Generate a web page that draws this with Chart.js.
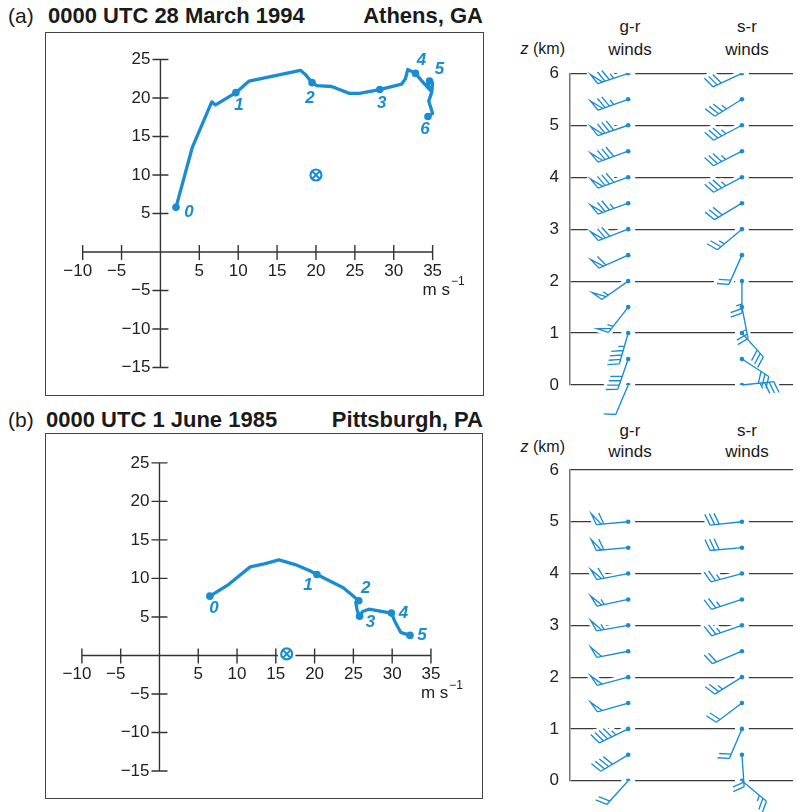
<!DOCTYPE html>
<html>
<head>
<meta charset="utf-8">
<script src="https://cdn.jsdelivr.net/npm/chart.js@4.4.1/dist/chart.umd.min.js"></script>
<style>
  html, body { margin: 0; padding: 0; background: #fff; }
  body { width: 797px; height: 812px; position: relative; overflow: hidden;
         font-family: "Liberation Sans", Arial, sans-serif; color: #1a1a1a; }
  .abs { position: absolute; white-space: nowrap; }
  .tag { font-size: 21px; line-height: 24px; }
  .ttl { font-size: 22px; font-weight: bold; line-height: 24px; }
  .box { position: absolute; border: 1.5px solid #444; box-sizing: border-box; }
  .hdr { font-size: 17px; line-height: 19px; text-align: center; width: 60px; }
  .zl { font-size: 16px; line-height: 19px; }
  canvas { position: absolute; }
</style>
</head>
<body>

<div class="abs tag" style="left:8px; top:4px">(a)</div>
<div class="abs ttl" style="left:48px; top:4px">0000 UTC 28 March 1994</div>
<div class="abs ttl" style="right:314px; top:4px">Athens, GA</div>
<div class="box" style="left:45px; top:32px; width:439px; height:364px"></div>
<canvas id="hodoA" width="438" height="363" style="left:45px; top:32px"></canvas>

<div class="abs zl" style="right:232px; top:39px"><i>z</i> (km)</div>
<div class="abs hdr" style="left:600px; top:17px">g-r</div>
<div class="abs hdr" style="left:600px; top:40px">winds</div>
<div class="abs hdr" style="left:717px; top:17px">s-r</div>
<div class="abs hdr" style="left:717px; top:40px">winds</div>
<canvas id="barbA" width="307" height="420" style="left:490px; top:0px"></canvas>

<div class="abs tag" style="left:8px; top:408px">(b)</div>
<div class="abs ttl" style="left:46px; top:408px">0000 UTC 1 June 1985</div>
<div class="abs ttl" style="right:314px; top:408px">Pittsburgh, PA</div>
<div class="box" style="left:45px; top:433px; width:438px; height:366px"></div>
<canvas id="hodoB" width="437" height="365" style="left:45px; top:433px"></canvas>

<div class="abs zl" style="right:232px; top:437px"><i>z</i> (km)</div>
<div class="abs hdr" style="left:600px; top:421px">g-r</div>
<div class="abs hdr" style="left:600px; top:442px">winds</div>
<div class="abs hdr" style="left:717px; top:421px">s-r</div>
<div class="abs hdr" style="left:717px; top:442px">winds</div>
<canvas id="barbB" width="307" height="392" style="left:490px; top:420px"></canvas>

<script>
// ---- data ----
// (a) Athens hodograph, ground-relative wind components (m/s)
const athensU = [2.0, 4.1, 6.6, 7.1, 9.7, 11.4, 18.0, 18.6, 19.5, 20.1, 22.0, 24.3, 25.6, 28.2, 31.0, 31.5, 31.8, 32.8, 33.8, 34.9, 34.4, 34.5, 35.0, 34.9, 34.5, 35.0, 34.4];
const athensV = [5.8, 13.6, 19.5, 19.1, 20.7, 22.2, 23.6, 23.1, 22.0, 21.6, 21.5, 20.6, 20.6, 21.1, 21.8, 22.5, 23.7, 23.2, 22.0, 20.8, 21.7, 22.3, 22.0, 20.8, 19.6, 18.0, 17.6];
const athensMarkU = [2.0, 9.7, 19.5, 28.2, 32.8, 34.6, 34.4];
const athensMarkV = [5.8, 20.7, 22.0, 21.1, 23.2, 22.2, 17.6];
const athensMarkLabels = ['0', '1', '2', '3', '4', '5', '6'];
const athensStorm = [20, 10];

// (b) Pittsburgh hodograph
const pittU = [6.5, 8.9, 11.7, 13.5, 15.4, 17.5, 19.4, 20.3, 23.7, 25.7, 25.3, 25.5, 25.8, 26.2, 27.0, 29.9, 30.4, 31.1, 32.3];
const pittV = [7.7, 9.2, 11.5, 11.9, 12.4, 11.8, 11.0, 10.5, 8.8, 7.1, 6.9, 5.8, 5.1, 5.7, 6.0, 5.5, 4.3, 3.0, 2.6];
const pittMarkU = [6.5, 20.3, 25.7, 25.8, 29.9, 32.3];
const pittMarkV = [7.7, 10.5, 7.1, 5.1, 5.5, 2.6];
const pittMarkLabels = ['0', '1', '2', '3', '4', '5'];
const pittStorm = [16.4, 0.2];

// hodograph tick labels
const uTicks = [-10, -5, 5, 10, 15, 20, 25, 30, 35];
const vTicks = [-15, -10, -5, 5, 10, 15, 20, 25];
const zTicks = [0, 1, 2, 3, 4, 5, 6];

// wind barbs: direction wind comes from (deg) and speed (kt)
const athensLevels = [0, 0.5, 1, 1.5, 2, 2.5, 3, 3.5, 4, 4.5, 5, 5.5, 6];
const athensGrDir = [203, 199, 196, 218, 235, 246, 249, 250, 250, 250, 251, 250, 251];
const athensGrKt  = [10, 40, 45, 55, 55, 60, 70, 75, 80, 80, 80, 75, 75];
const athensSrDir = [84, 123, 138, 169, 180, 204, 230, 239, 242, 243, 242, 238, 245];
const athensSrKt  = [35, 30, 30, 25, 25, 20, 25, 30, 35, 35, 35, 35, 30];

const pittLevels = [0, 0.5, 1, 1.5, 2, 2.5, 3, 3.5, 4, 4.5, 5];
const pittGrDir = [222, 239, 244, 254, 255, 259, 260, 258, 259, 265, 265];
const pittGrKt  = [20, 40, 45, 50, 50, 50, 55, 55, 60, 60, 60];
const pittSrDir = [130, 176, 203, 233, 238, 247, 251, 252, 255, 265, 264];
const pittSrKt  = [25, 20, 20, 20, 25, 20, 25, 25, 25, 30, 30];

// ---- style ----
const BLUE = '#1a8cd2';
const INK = '#222';
const FONT = '"Liberation Sans", Arial, sans-serif';
Chart.defaults.font.family = FONT;

// label offsets (px) for the height numbers next to the hodograph dots
const athensLabelOffsets = [[13, 5], [3, 13], [-2, 16], [2, 14], [6, -13], [10, -12], [-3, 13]];
const pittLabelOffsets = [[4, 12], [-9, 11], [7, -12], [11, 6], [12, 0], [12, 0]];

// axes of the hodograph drawn through the chart scales
const hodoAxes = {
    id: 'hodoAxes',
    beforeDatasetsDraw(chart) {
        const {ctx, scales: {x, y}} = chart;
        const x0 = x.getPixelForValue(0), y0 = y.getPixelForValue(0);
        ctx.save();
        ctx.strokeStyle = '#333';
        ctx.lineWidth = 1.4;
        ctx.beginPath();
        ctx.moveTo(x.getPixelForValue(uTicks[0]), y0);
        ctx.lineTo(x.getPixelForValue(uTicks[uTicks.length - 1]), y0);
        ctx.moveTo(x0, y.getPixelForValue(vTicks[0]));
        ctx.lineTo(x0, y.getPixelForValue(vTicks[vTicks.length - 1]));
        uTicks.forEach(v => {
            const px = x.getPixelForValue(v);
            ctx.moveTo(px, y0 - 7);
            ctx.lineTo(px, y0 + 8);
        });
        vTicks.forEach(v => {
            const py = y.getPixelForValue(v);
            ctx.moveTo(x0 - 8, py);
            ctx.lineTo(x0 + 8, py);
        });
        ctx.stroke();

        ctx.fillStyle = INK;
        ctx.font = '17px ' + FONT;
        ctx.textBaseline = 'middle';
        uTicks.forEach(v => {
            const px = x.getPixelForValue(v);
            const digits = String(Math.abs(v));
            const wd = ctx.measureText(digits).width;
            const wm = v < 0 ? ctx.measureText('\u2212').width : 0;
            ctx.textAlign = 'left';
            ctx.fillText((v < 0 ? '\u2212' : '') + digits, px - wd / 2 - wm, y0 + 19);
        });
        ctx.textAlign = 'right';
        vTicks.forEach(v => {
            const py = y.getPixelForValue(v);
            ctx.fillText((v < 0 ? '\u2212' : '') + Math.abs(v), x0 - 10, py);
        });
        // unit
        const ux = x.getPixelForValue(35) - 10, uy = y0 + 38;
        ctx.textAlign = 'left';
        ctx.fillText('m s', ux, uy);
        const w = ctx.measureText('m s').width;
        ctx.font = '12px ' + FONT;
        ctx.fillText('\u22121', ux + w + 1, uy - 8);
        ctx.restore();
    }
};

const heightLabels = {
    id: 'heightLabels',
    afterDatasetsDraw(chart, args, opts) {
        const {ctx, scales: {x, y}} = chart;
        ctx.save();
        ctx.fillStyle = BLUE;
        ctx.font = 'italic bold 17px ' + FONT;
        ctx.textAlign = 'center';
        ctx.textBaseline = 'middle';
        opts.labels.forEach((t, i) => {
            const px = x.getPixelForValue(opts.u[i]) + opts.offsets[i][0];
            const py = y.getPixelForValue(opts.v[i]) + opts.offsets[i][1];
            ctx.fillText(t, px, py);
        });
        ctx.restore();
    }
};

function makeHodo(id, u, v, mu, mv, labels, offsets, storm, box) {
    const path = u.map((val, i) => ({x: val, y: v[i]}));
    const marks = mu.map((val, i) => ({x: val, y: mv[i]}));
    const s = [{x: storm[0], y: storm[1]}];
    new Chart(document.getElementById(id), {
        type: 'scatter',
        data: {
            datasets: [
                {data: path, showLine: true, borderColor: BLUE, borderWidth: 3.3, pointRadius: 0,
                    borderJoinStyle: 'round', borderCapStyle: 'round', order: 3},
                {data: marks, pointRadius: 3.8, backgroundColor: BLUE, borderWidth: 0, order: 2},
                {data: s, pointRadius: 9, backgroundColor: '#fff', borderWidth: 0, order: 4},
                {data: s, pointRadius: 5.5, backgroundColor: '#fff', borderColor: BLUE, borderWidth: 2.2, order: 1},
                {data: s, pointStyle: 'crossRot', pointRadius: 5, borderColor: BLUE, borderWidth: 2, order: 0}
            ]
        },
        options: {
            responsive: false,
            animation: false,
            events: [],
            layout: {padding: 0},
            plugins: {
                legend: {display: false},
                tooltip: {enabled: false},
                heightLabels: {u: mu, v: mv, labels: labels, offsets: offsets}
            },
            scales: {
                x: {type: 'linear', display: false,
                    min: (box.left - box.ox) / box.kx, max: (box.left + box.width - box.ox) / box.kx},
                y: {type: 'linear', display: false,
                    min: (box.oy - box.top - box.height) / box.ky, max: (box.oy - box.top) / box.ky}
            }
        },
        plugins: [hodoAxes, heightLabels]
    });
}

// barb station positions along the (hidden) x scale
const GR_X = 0.261, SR_X = 0.771;

function barbPath(ctx, x, y, dirDeg, kt) {
    const b = dirDeg * Math.PI / 180;
    const dx = Math.sin(b), dy = -Math.cos(b);
    const r = 70 * Math.PI / 180;
    const bx = dx * Math.cos(r) - dy * Math.sin(r);
    const by = dx * Math.sin(r) + dy * Math.cos(r);
    const L = 32, B = 12, S = 4.6, W = 5;
    const pt = d => [x + dx * d, y + dy * d];
    ctx.moveTo(x, y);
    ctx.lineTo(...pt(L));
    let n = Math.round(kt / 5);
    const pen = Math.floor(n / 10);
    n -= pen * 10;
    const full = Math.floor(n / 2);
    const half = n - full * 2;
    let d = L;
    for (let i = 0; i < pen; i++) {
        const p0 = pt(d), p1 = pt(d - W);
        ctx.moveTo(p0[0], p0[1]);
        ctx.lineTo(p0[0] + bx * B, p0[1] + by * B);
        ctx.lineTo(p1[0], p1[1]);
        d -= W + 2.5;
    }
    for (let i = 0; i < full; i++) {
        const p = pt(d);
        ctx.moveTo(p[0], p[1]);
        ctx.lineTo(p[0] + bx * B, p[1] + by * B);
        d -= S;
    }
    if (half) {
        if (d === L) d -= S;
        const p = pt(d);
        ctx.moveTo(p[0], p[1]);
        ctx.lineTo(p[0] + bx * B / 2, p[1] + by * B / 2);
    }
}

function eachBarb(chart, opts, fn) {
    const {scales: {x, y}} = chart;
    opts.levels.forEach((z, i) => {
        const py = y.getPixelForValue(z);
        fn(x.getPixelForValue(GR_X), py, opts.grDir[i], opts.grKt[i]);
        fn(x.getPixelForValue(SR_X), py, opts.srDir[i], opts.srKt[i]);
    });
}

const windBarbs = {
    id: 'windBarbs',
    beforeDatasetsDraw(chart, args, opts) {
        const ctx = chart.ctx;
        ctx.save();
        ctx.strokeStyle = '#fff';
        ctx.fillStyle = '#fff';
        ctx.lineWidth = 7;
        ctx.lineCap = 'round';
        ctx.lineJoin = 'round';
        eachBarb(chart, opts, (px, py, dir, kt) => {
            ctx.beginPath();
            barbPath(ctx, px, py, dir, kt);
            ctx.stroke();
            ctx.beginPath();
            ctx.arc(px, py, 7, 0, Math.PI * 2);
            ctx.fill();
        });
        ctx.restore();
    },
    afterDatasetsDraw(chart, args, opts) {
        const ctx = chart.ctx;
        ctx.save();
        ctx.strokeStyle = BLUE;
        ctx.lineWidth = 1.35;
        ctx.lineJoin = 'miter';
        eachBarb(chart, opts, (px, py, dir, kt) => {
            ctx.beginPath();
            barbPath(ctx, px, py, dir, kt);
            ctx.stroke();
        });
        ctx.restore();
    }
};

function makeBarbs(id, levels, grDir, grKt, srDir, srKt, pad) {
    new Chart(document.getElementById(id), {
        type: 'scatter',
        data: {
            datasets: [
                {data: levels.map(z => ({x: GR_X, y: z})), pointRadius: 2.3, backgroundColor: BLUE, borderWidth: 0},
                {data: levels.map(z => ({x: SR_X, y: z})), pointRadius: 2.3, backgroundColor: BLUE, borderWidth: 0}
            ]
        },
        options: {
            responsive: false,
            animation: false,
            events: [],
            layout: {padding: {top: pad.top, bottom: pad.bottom, left: 0, right: 0}},
            plugins: {
                legend: {display: false},
                tooltip: {enabled: false},
                windBarbs: {levels, grDir, grKt, srDir, srKt}
            },
            scales: {
                x: {type: 'linear', display: false, min: 0, max: 1},
                y: {
                    type: 'linear', min: 0, max: 6,
                    afterFit: s => { s.width = 80; },
                    afterBuildTicks: s => { s.ticks = zTicks.map(v => ({value: v})); },
                    ticks: {color: INK, font: {size: 17}, padding: 11},
                    grid: {color: '#3a3a3a', lineWidth: 1.2, drawTicks: false},
                    border: {display: true, color: '#777', width: 1.5}
                }
            }
        },
        plugins: [windBarbs]
    });
}

makeHodo('hodoA', athensU, athensV, athensMarkU, athensMarkV, athensMarkLabels, athensLabelOffsets, athensStorm,
    {left: 45, top: 32, width: 438, height: 363, ox: 156, oy: 254, kx: 8.11, ky: 8.1});
makeHodo('hodoB', pittU, pittV, pittMarkU, pittMarkV, pittMarkLabels, pittLabelOffsets, pittStorm,
    {left: 45, top: 433, width: 437, height: 365, ox: 155, oy: 657.5, kx: 8.09, ky: 8.1});

makeBarbs('barbA', athensLevels, athensGrDir, athensGrKt, athensSrDir, athensSrKt, {top: 73.3, bottom: 35});
makeBarbs('barbB', pittLevels, pittGrDir, pittGrKt, pittSrDir, pittSrKt, {top: 50, bottom: 31.3});
</script>
</body>
</html>
